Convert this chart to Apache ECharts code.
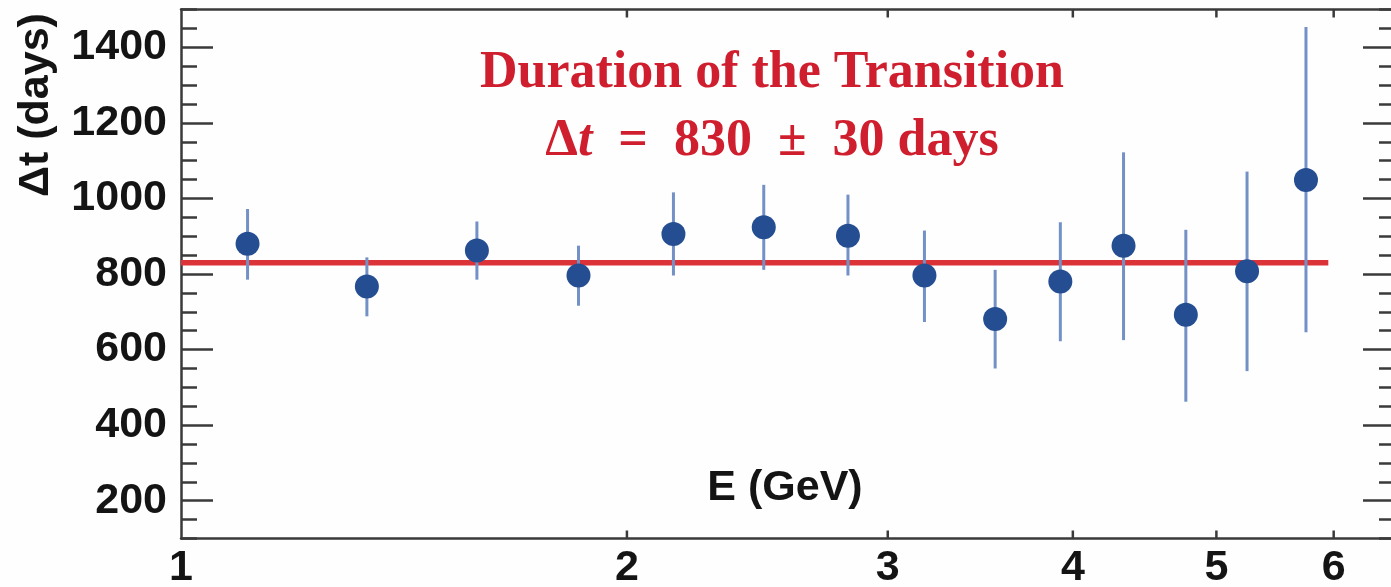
<!DOCTYPE html>
<html>
<head>
<meta charset="utf-8">
<script src="https://cdn.jsdelivr.net/npm/echarts@6/dist/echarts.min.js"></script>
<style>
  html, body { margin: 0; padding: 0; background: #fefefe; }
  #chart { width: 1391px; height: 587px; }
</style>
</head>
<body>
<div id="chart"></div>
<script>
// Transition duration per energy bin, with the fitted common value
const energy   = [1.109, 1.335, 1.584, 1.855, 2.150, 2.474, 2.820, 3.176, 3.545, 3.923, 4.328, 4.768, 5.244, 5.747];
const duration = [880, 767, 862, 796, 906, 924, 901, 796, 681, 780, 875, 692, 807, 1049];
const errLow   = [785, 688, 785, 716, 796, 811, 796, 673, 550, 622, 625, 462, 543, 646];
const errHigh  = [972, 844, 939, 875, 1016, 1036, 1010, 915, 811, 937, 1122, 917, 1071, 1454];
const fitValue = 830;
const fitRange = [1.0, 5.95];
const xTicks = [1, 2, 3, 4, 5, 6];
const yTicks = [200, 400, 600, 800, 1000, 1200, 1400];

const X_MIN = 1, X_MAX = 6.6, Y_MIN = 100, Y_MAX = 1500;
const INK = '#141414';
const FRAME = '#3a3a3a';
const SANS = '"Liberation Sans", Arial, sans-serif';
const SERIF = '"Liberation Serif", "Times New Roman", serif';
const RED = '#cf1f2e';

const chart = echarts.init(document.getElementById('chart'), null, { renderer: 'canvas' });

const frameLine = { show: true, onZero: false, lineStyle: { color: FRAME, width: 2.5 } };
const tickStyle = { color: FRAME, width: 2.5 };

function logX(position) {
  return {
    type: 'log', logBase: 10, min: X_MIN, max: X_MAX, position: position,
    axisLine: frameLine, axisTick: { show: false }, axisLabel: { show: false },
    splitLine: { show: false }, minorTick: { show: false }, minorSplitLine: { show: false }
  };
}
function minorY(position) {
  return {
    type: 'value', min: Y_MIN, max: Y_MAX, interval: 50, position: position,
    axisLine: frameLine,
    axisTick: { show: true, inside: true, length: 16, lineStyle: tickStyle },
    axisLabel: { show: false }, splitLine: { show: false }
  };
}
function majorY(position, withLabels) {
  return {
    type: 'value', min: Y_MIN, max: Y_MAX, position: position,
    axisLine: { show: false },
    axisTick: { show: true, inside: true, length: 32, customValues: yTicks, lineStyle: tickStyle },
    axisLabel: withLabels ? {
      show: true, customValues: yTicks, margin: 14,
      formatter: v => String(v),
      fontFamily: SANS, fontWeight: 'bold', fontSize: 43, color: INK
    } : { show: false },
    splitLine: { show: false }
  };
}

const option = {
  backgroundColor: '#fefefe',
  animation: false,
  grid: { left: 181, top: 9.5, width: 1214, height: 529, containLabel: false, outerBoundsMode: 'none' },
  xAxis: [logX('bottom'), logX('top')],
  yAxis: [minorY('left'), majorY('left', true), minorY('right'), majorY('right', false)],
  series: [
    {
      // fitted constant duration
      type: 'line', xAxisIndex: 0, yAxisIndex: 0, z: 2,
      data: [[fitRange[0], fitValue], [fitRange[1], fitValue]],
      symbol: 'none', silent: true,
      lineStyle: { color: '#dc3338', width: 5.5 }
    },
    {
      // vertical error bars
      type: 'custom', xAxisIndex: 0, yAxisIndex: 0, z: 3,
      data: energy.map((e, i) => [e, errLow[i], errHigh[i]]),
      encode: { x: 0, y: [1, 2] },
      renderItem: function (params, api) {
        const lo = api.coord([api.value(0), api.value(1)]);
        const hi = api.coord([api.value(0), api.value(2)]);
        return {
          type: 'line',
          shape: { x1: lo[0], y1: lo[1], x2: hi[0], y2: hi[1] },
          style: { stroke: '#7391c6', lineWidth: 3 }
        };
      }
    },
    {
      // measured points
      type: 'scatter', xAxisIndex: 0, yAxisIndex: 0, z: 4,
      data: energy.map((e, i) => [e, duration[i]]),
      symbol: 'circle', symbolSize: 24,
      itemStyle: { color: '#244e91', opacity: 1 }
    },
    {
      // energy ticks on both horizontal edges and their labels
      type: 'custom', xAxisIndex: 0, yAxisIndex: 0, z: 5, clip: false, silent: true,
      data: xTicks.map(v => [v]),
      encode: { x: 0 },
      renderItem: function (params, api) {
        const v = api.value(0);
        const b = api.coord([v, Y_MIN]);
        const t = api.coord([v, Y_MAX]);
        const children = [{
          type: 'text',
          style: {
            text: String(v), x: b[0], y: b[1] + 29.5,
            align: 'center', verticalAlign: 'middle',
            fontFamily: SANS, fontWeight: 'bold', fontSize: 43, fill: INK
          }
        }];
        if (v !== X_MIN) {
          children.push({ type: 'line', shape: { x1: b[0], y1: b[1], x2: b[0], y2: b[1] - 8 }, style: { stroke: FRAME, lineWidth: 2.5 } });
          children.push({ type: 'line', shape: { x1: t[0], y1: t[1], x2: t[0], y2: t[1] + 8 }, style: { stroke: FRAME, lineWidth: 2.5 } });
        }
        return { type: 'group', children: children };
      }
    }
  ],
  graphic: [
    {
      type: 'text', x: 772, y: 74, z: 10,
      style: {
        text: 'Duration of the Transition',
        fontFamily: SERIF, fontWeight: 'bold', fontSize: 52, fill: RED,
        align: 'center', verticalAlign: 'middle'
      }
    },
    {
      type: 'text', x: 772, y: 142, z: 10,
      style: {
        text: '{d|Δ}{t|t}{n|  =  830  ±  30 days}',
        align: 'center', verticalAlign: 'middle',
        rich: {
          d: { fontFamily: SERIF, fontWeight: 'bold', fontSize: 52, fill: RED },
          t: { fontFamily: SERIF, fontWeight: 'bold', fontStyle: 'italic', fontSize: 52, fill: RED },
          n: { fontFamily: SERIF, fontWeight: 'bold', fontSize: 52, fill: RED }
        }
      }
    },
    {
      type: 'text', x: 36, y: 105, rotation: Math.PI / 2, z: 10,
      style: {
        text: 'Δt (days)',
        fontFamily: SANS, fontWeight: 'bold', fontSize: 43, fill: INK,
        align: 'center', verticalAlign: 'middle'
      }
    },
    {
      type: 'text', x: 785, y: 488, z: 10,
      style: {
        text: 'E (GeV)',
        fontFamily: SANS, fontWeight: 'bold', fontSize: 43, fill: INK,
        align: 'center', verticalAlign: 'middle'
      }
    }
  ]
};

chart.setOption(option);
</script>
</body>
</html>
